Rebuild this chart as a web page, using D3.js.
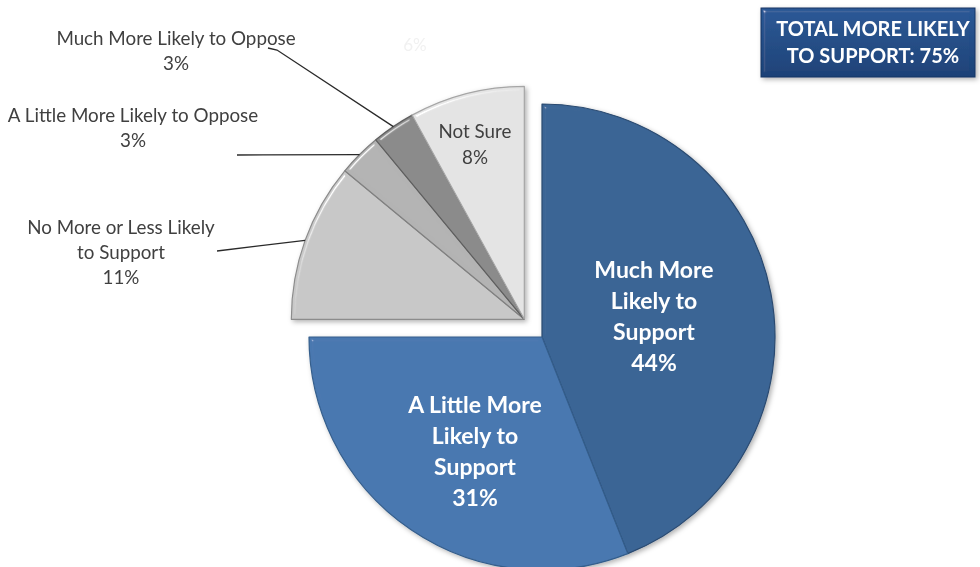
<!DOCTYPE html>
<html>
<head>
<meta charset="utf-8">
<script src="https://cdn.jsdelivr.net/npm/d3@7"></script>
<style>
  html, body { margin: 0; padding: 0; background: #ffffff; }
  svg { display: block; }
</style>
</head>
<body>
<svg id="chart" width="980" height="567"></svg>
<script>
// Survey responses, clockwise from 12 o'clock
const categories = [
  "Much More Likely to Support",
  "A Little More Likely to Support",
  "No More or Less Likely to Support",
  "A Little More Likely to Oppose",
  "Much More Likely to Oppose",
  "Not Sure"
];
const values = [44, 31, 11, 3, 3, 8];

// How each category name is broken onto lines in its label
const labelLines = [
  ["Much More", "Likely to", "Support"],
  ["A Little More", "Likely to", "Support"],
  ["No More or Less Likely", "to Support"],
  ["A Little More Likely to Oppose"],
  ["Much More Likely to Oppose"],
  ["Not Sure"]
];

// Which categories count toward the support total
const supportIdx = [0, 1];
// Categories pulled out of the pie together
const explodedIdx = [2, 3, 4, 5];

const fills   = ["#3b6595", "#4a78b0", "#c8c8c8", "#b3b3b3", "#8b8b8b", "#e4e4e4"];
const strokes = ["#2a4a70", "#345e8c", "#8c8c8c", "#808080", "#5e5e5e", "#a6a6a6"];

const svg = d3.select("#chart");
const defs = svg.append("defs");

// Soft bevel: specular highlight along the upper-left edges
function addBevel(id, strength, exponent) {
  const f = defs.append("filter").attr("id", id)
    .attr("x", "-5%").attr("y", "-5%").attr("width", "110%").attr("height", "110%");
  f.append("feGaussianBlur").attr("in", "SourceAlpha").attr("stdDeviation", 2.2).attr("result", "blur");
  const s = f.append("feSpecularLighting").attr("in", "blur")
    .attr("surfaceScale", 4).attr("specularConstant", 0.9).attr("specularExponent", exponent)
    .attr("lighting-color", "#ffffff").attr("result", "spec");
  s.append("feDistantLight").attr("azimuth", 225).attr("elevation", 40);
  f.append("feComposite").attr("in", "spec").attr("in2", "SourceAlpha").attr("operator", "in").attr("result", "specIn");
  f.append("feComposite").attr("in", "SourceGraphic").attr("in2", "specIn").attr("operator", "arithmetic")
    .attr("k1", 0).attr("k2", 1).attr("k3", strength).attr("k4", 0);
}
addBevel("bevel", 0.6, 60);
addBevel("bevelSoft", 0.3, 80);

const shadow = defs.append("filter").attr("id", "shadow")
  .attr("x", "-10%").attr("y", "-10%").attr("width", "130%").attr("height", "130%");
shadow.append("feDropShadow").attr("dx", 2).attr("dy", 2).attr("stdDeviation", 2.5)
  .attr("flood-color", "#000").attr("flood-opacity", 0.3);

// Pie geometry
const cx = 542, cy = 337, R = 233, explode = 25;

const pie = d3.pie().sort(null).value(d => d);
const arcs = pie(values);
const arc = d3.arc().innerRadius(0).outerRadius(R);

// The pulled-out group moves along the bisector of its combined span
const gStart = d3.min(explodedIdx, i => arcs[i].startAngle);
const gEnd = d3.max(explodedIdx, i => arcs[i].endAngle);
const gMid = (gStart + gEnd) / 2;
const offX = explode * Math.sin(gMid), offY = -explode * Math.cos(gMid);

function sliceOrigin(i) {
  return explodedIdx.includes(i) ? [cx + offX, cy + offY] : [cx, cy];
}

const pieG = svg.append("g").attr("filter", "url(#shadow)");
pieG.selectAll("path.slice")
  .data(arcs)
  .join("path")
  .attr("class", "slice")
  .attr("transform", (d, i) => `translate(${sliceOrigin(i)})`)
  .attr("d", arc)
  .attr("fill", (d, i) => fills[i])
  .attr("stroke", (d, i) => strokes[i])
  .attr("stroke-width", 1.2)
  .attr("stroke-linejoin", "round")
  .attr("filter", (d, i) => explodedIdx.includes(i) ? "url(#bevel)" : "url(#bevelSoft)");

const font = "Lato, 'Open Sans', sans-serif";

function multiline(x, yFirst, lines, spacing, opts) {
  const t = svg.append("text")
    .attr("text-anchor", "middle")
    .attr("font-family", font)
    .attr("font-size", opts.size)
    .attr("font-weight", opts.weight || "normal")
    .attr("fill", opts.color);
  lines.forEach((ln, k) => {
    t.append("tspan").attr("x", x).attr("y", yFirst + k * spacing).attr("dy", "0.35em").text(ln);
  });
  return t;
}

// Labels drawn inside their slices: centre of the text block
const insideLabels = [
  { i: 0, x: 654, y: 316, size: 23, spacing: 31, weight: "bold", color: "#ffffff" },
  { i: 1, x: 475, y: 451, size: 23, spacing: 31, weight: "bold", color: "#ffffff" },
  { i: 5, x: 475, y: 144, size: 18.8, spacing: 26, weight: "normal", color: "#404040" }
];
insideLabels.forEach(L => {
  const lines = labelLines[L.i].concat([values[L.i] + "%"]);
  const first = L.y - (lines.length - 1) * L.spacing / 2;
  multiline(L.x, first, lines, L.spacing, L);
});

// Labels outside the pie with leader lines to the slice rim
const outsideLabels = [
  { i: 2, x: 121, y: 227, bend: [[217, 251]] },
  { i: 3, x: 133, y: 115, bend: [[237, 155]] },
  { i: 4, x: 176, y: 38,  bend: [[268, 48], [277, 50]] }
];
outsideLabels.forEach(L => {
  const lines = labelLines[L.i].concat([values[L.i] + "%"]);
  multiline(L.x, L.y, lines, 25, { size: 18.8, color: "#404040" });
  const a = arcs[L.i];
  const mid = (a.startAngle + a.endAngle) / 2;
  const [ox, oy] = sliceOrigin(L.i);
  const rim = [ox + R * Math.sin(mid), oy - R * Math.cos(mid)];
  svg.append("path")
    .attr("d", d3.line()(L.bend.concat([rim])))
    .attr("fill", "none")
    .attr("stroke", "#2a2a2a")
    .attr("stroke-width", 1.3);
});

// Faint leftover value tag above the pie
svg.append("text")
  .attr("x", 415).attr("y", 45).attr("dy", "0.35em")
  .attr("text-anchor", "middle")
  .attr("font-family", font).attr("font-size", 17)
  .attr("fill", "#f1f1f1")
  .text("6%");

// Total box
const total = d3.sum(supportIdx, i => values[i]);
const boxGrad = defs.append("linearGradient").attr("id", "boxGrad")
  .attr("x1", 0).attr("y1", 0).attr("x2", 0).attr("y2", 1);
boxGrad.append("stop").attr("offset", "0%").attr("stop-color", "#2a5896");
boxGrad.append("stop").attr("offset", "100%").attr("stop-color", "#1b4177");

const boxG = svg.append("g").attr("filter", "url(#shadow)");
boxG.append("rect")
  .attr("x", 761).attr("y", 8).attr("width", 214).attr("height", 69)
  .attr("fill", "url(#boxGrad)")
  .attr("stroke", "#163563").attr("stroke-width", 1)
  .attr("filter", "url(#bevel)");
multiline(873, 29, ["TOTAL MORE LIKELY", `TO SUPPORT: ${total}%`], 27,
  { size: 20, weight: "bold", color: "#ffffff" });
</script>
</body>
</html>
